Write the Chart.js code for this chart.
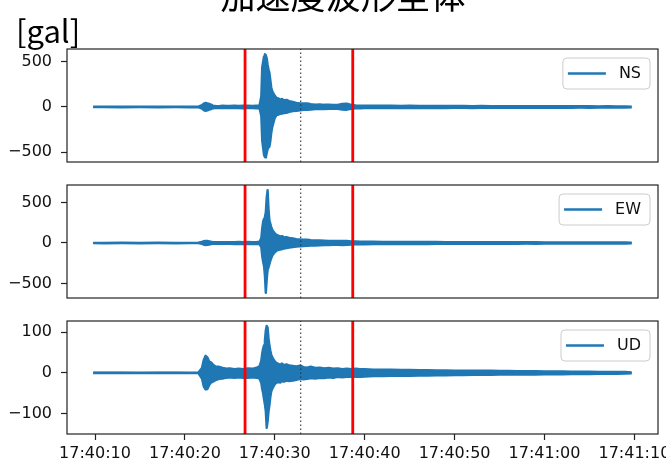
<!DOCTYPE html>
<html><head><meta charset="utf-8">
<script src="https://cdn.jsdelivr.net/npm/chart.js@4.4.1/dist/chart.umd.min.js"></script>
<style>
html,body{margin:0;padding:0;background:#fff;}
#wrap{position:relative;width:666px;height:467px;overflow:hidden;background:#fff;}
canvas{position:absolute;left:0;}
</style></head><body>
<div id="wrap">
<canvas id="c1" width="666" height="175" style="top:0px"></canvas>
<canvas id="c2" width="666" height="135" style="top:175px"></canvas>
<canvas id="c3" width="666" height="157" style="top:310px"></canvas>
</div>
<script>
// ---- text ----
const titleText = '加速度波形全体';
const unitText = '[gal]';
const seriesNames = ['NS', 'EW', 'UD'];

// ---- time axis (seconds after 17:40:00) ----
const times = [9.8, 11, 13, 15, 17, 19, 20.5, 21.5,
  21.9, 22.1, 22.3, 22.5, 22.7, 22.9, 23.1,
  23.4, 23.8, 24.2, 24.6, 25.0, 25.5, 26.0, 26.5, 27.0, 27.5, 28.0, 28.3,
  28.5, 28.6, 28.7, 28.8, 28.9, 29.0, 29.1, 29.2, 29.3, 29.4,
  29.5, 29.6, 29.7, 29.8, 30.0, 30.2, 30.4, 30.6, 30.8, 31.0,
  31.3, 31.6, 32.0, 32.4, 32.8, 33.2, 33.6, 34.0, 34.5, 35.0,
  35.5, 36.0, 36.5, 37.0, 37.5, 38.0, 38.5, 39.0, 39.5, 40.0,
  41, 42, 43, 44, 45, 46, 47, 48, 49, 50,
  51, 52, 53, 54, 55, 56, 57, 58, 59, 60,
  61, 62, 63, 64, 65, 66, 67, 68, 69, 69.7];

// ---- waveform envelopes (upper / lower peak values, gal) ----
const nsUpper = [2, 3, 2, 3, 2, 3, 2, 3,
  20, 38, 45, 40, 34, 26, 15,
  12, 10, 13, 11, 12, 14, 11, 13, 14, 12, 15, 16,
  120, 440, 500, 560, 585, 575, 540, 470, 420, 380,
  300, 220, 180, 160, 125, 100, 95, 80, 90, 72,
  78, 65, 55, 45, 40, 38, 40, 30, 26, 28,
  24, 25, 22, 24, 34, 36, 22, 16, 14, 15,
  14, 13, 14, 12, 13, 12, 12, 11, 12, 11,
  11, 10, 11, 10, 10, 9, 10, 9, 9, 9,
  8, 9, 8, 8, 8, 7, 8, 7, 7, 4];
const nsLower = [-2, -2, -3, -2, -3, -2, -3, -2,
  -18, -35, -42, -38, -30, -24, -14,
  -11, -12, -10, -12, -13, -11, -12, -14, -12, -13, -14, -15,
  -100, -370, -450, -530, -555, -560, -510, -470, -450, -440,
  -380, -290, -230, -190, -120, -90, -85, -75, -72, -68,
  -65, -55, -45, -42, -38, -32, -30, -28, -24, -22,
  -22, -20, -21, -20, -28, -30, -20, -15, -14, -13,
  -13, -12, -13, -12, -12, -11, -12, -11, -11, -10,
  -10, -11, -10, -9, -10, -9, -9, -9, -8, -9,
  -8, -8, -8, -7, -8, -7, -7, -7, -6, -4];

const ewUpper = [2, 2, 3, 2, 3, 2, 2, 3,
  12, 22, 26, 24, 20, 15, 11,
  10, 9, 11, 10, 11, 10, 12, 11, 12, 11, 13, 15,
  60, 180, 260, 300, 320, 380, 560, 652, 420, 280,
  240, 200, 170, 150, 120, 100, 90, 80, 85, 70,
  72, 62, 55, 48, 45, 40, 42, 35, 32, 30,
  28, 26, 24, 25, 26, 24, 20, 18, 16, 16,
  15, 14, 14, 13, 13, 12, 12, 12, 11, 11,
  11, 10, 10, 10, 9, 10, 9, 9, 9, 8,
  8, 8, 8, 7, 8, 7, 7, 7, 6, 4];
const ewLower = [-2, -3, -2, -3, -2, -3, -2, -2,
  -11, -20, -25, -22, -18, -14, -10,
  -10, -11, -10, -11, -10, -12, -11, -12, -11, -13, -12, -14,
  -50, -160, -230, -280, -400, -616, -450, -330, -300, -260,
  -220, -190, -160, -140, -115, -95, -85, -80, -75, -68,
  -62, -55, -50, -45, -42, -38, -35, -32, -30, -28,
  -26, -24, -22, -22, -24, -22, -18, -17, -15, -15,
  -14, -14, -13, -13, -12, -12, -12, -11, -11, -11,
  -10, -10, -10, -9, -9, -9, -9, -8, -9, -8,
  -8, -8, -7, -7, -7, -7, -7, -6, -6, -4];

const udUpper = [0.5, 0.5, 0.6, 0.5, 0.6, 0.5, 0.6, 0.8,
  12, 32, 42, 38, 28, 26, 21,
  16, 15, 12, 10, 11, 9, 10, 9, 11, 10, 13, 16,
  30, 48, 60, 68, 80, 105, 116, 112, 85, 68,
  55, 45, 40, 35, 28, 24, 22, 20, 23, 19,
  21, 18, 17, 16, 18, 14, 13, 15, 12, 13,
  11, 12, 10, 11, 9, 10, 9, 10, 9, 9,
  8, 8, 7.5, 7, 7, 6.5, 6.5, 6, 6, 5.5,
  5.5, 5, 5, 5, 4.5, 4.5, 4, 4, 4, 3.5,
  3.5, 3.5, 3, 3, 3, 2.5, 2.5, 2.5, 2, 1];
const udLower = [-0.5, -0.5, -0.5, -0.6, -0.5, -0.5, -0.6, -0.8,
  -14, -34, -41, -40, -30, -24, -22,
  -18, -15, -14, -12, -11, -12, -11, -12, -12, -11, -12, -14,
  -25, -40, -50, -65, -78, -95, -136, -120, -95, -80,
  -60, -46, -40, -36, -28, -24, -23, -24, -20, -22,
  -19, -20, -19, -17, -15, -16, -15, -13, -14, -12,
  -13, -11, -12, -10, -11, -10, -10, -9, -10, -9,
  -8, -8, -7.5, -7, -7, -6.5, -6.5, -6, -6, -5.5,
  -5.5, -5, -5, -5, -4.5, -4.5, -4, -4, -4, -3.5,
  -3.5, -3.5, -3, -3, -3, -2.5, -2.5, -2.5, -2, -1];

// ---- markers (seconds after 17:40:00) ----
const markerRed = [26.69, 38.67];
const markerDotted = [32.88];

// ---- axes ----
const xRange = [6.885, 72.625];
const xTickValues = [10, 20, 30, 40, 50, 60, 70];
const xTickLabels = ['17:40:10', '17:40:20', '17:40:30', '17:40:40', '17:40:50', '17:41:00', '17:41:10'];
const nsRange = [-611, 644];
const ewRange = [-679, 716];
const udRange = [-151, 128];
const nsTicks = [-500, 0, 500];
const ewTicks = [-500, 0, 500];
const udTicks = [-100, 0, 100];
const nsTickLabels = ['\u2212500', '0', '500'];
const ewTickLabels = ['\u2212500', '0', '500'];
const udTickLabels = ['\u2212100', '0', '100'];

Chart.defaults.font.family = '"DejaVu Sans"';
Chart.defaults.font.size = 16;
Chart.defaults.color = '#111';

const BLUE = '#1f77b4';

function vline(x, yr, color, width, dash) {
  return { data: [{x: x, y: yr[0]}, {x: x, y: yr[1]}], borderColor: color, borderWidth: width,
    borderDash: dash || [], pointRadius: 0, fill: false, showLine: true, borderCapStyle: 'butt' };
}

function panelPlugin(name) {
  return {
    id: 'panel' + name,
    afterDraw(chart) {
      const ctx = chart.ctx, a = chart.chartArea;
      ctx.save();
      ctx.strokeStyle = '#222';
      ctx.lineWidth = 1.2;
      ctx.strokeRect(a.left, a.top, a.right - a.left, a.bottom - a.top);
      ctx.font = '16px "DejaVu Sans"';
      const tw = ctx.measureText(name).width;
      const bx2 = a.right - 8, by1 = a.top + 9, bh = 31;
      const tx = bx2 - 9 - tw;
      const lx2 = tx - 13, lx1 = lx2 - 38, bx1 = lx1 - 5;
      const r = 4;
      ctx.beginPath();
      ctx.moveTo(bx1 + r, by1);
      ctx.lineTo(bx2 - r, by1); ctx.arcTo(bx2, by1, bx2, by1 + r, r);
      ctx.lineTo(bx2, by1 + bh - r); ctx.arcTo(bx2, by1 + bh, bx2 - r, by1 + bh, r);
      ctx.lineTo(bx1 + r, by1 + bh); ctx.arcTo(bx1, by1 + bh, bx1, by1 + bh - r, r);
      ctx.lineTo(bx1, by1 + r); ctx.arcTo(bx1, by1, bx1 + r, by1, r);
      ctx.closePath();
      ctx.fillStyle = 'rgba(255,255,255,0.8)';
      ctx.fill();
      ctx.strokeStyle = '#cccccc';
      ctx.lineWidth = 1;
      ctx.stroke();
      ctx.beginPath();
      ctx.strokeStyle = BLUE;
      ctx.lineWidth = 2.4;
      ctx.moveTo(lx1, by1 + 15.5);
      ctx.lineTo(lx2, by1 + 15.5);
      ctx.stroke();
      ctx.fillStyle = '#111';
      ctx.textAlign = 'left';
      ctx.textBaseline = 'middle';
      ctx.fillText(name, tx, by1 + 16);
      ctx.restore();
    }
  };
}

const headerPlugin = {
  id: 'header',
  afterDraw(chart) {
    const ctx = chart.ctx;
    ctx.save();
    ctx.fillStyle = '#000';
    ctx.textBaseline = 'alphabetic';
    ctx.font = '35px "Noto Sans CJK JP"';
    ctx.textAlign = 'center';
    ctx.fillText(titleText, 343, 9);
    ctx.font = '31px "Noto Sans CJK JP"';
    ctx.textAlign = 'left';
    ctx.fillText(unitText, 16, 42.5);
    ctx.restore();
  }
};

function makeChart(id, name, upper, lower, yr, yt, ytl, showX, pad, extra) {
  const ds = [];
  markerRed.forEach(x => ds.push(vline(x, yr, '#ff0000', 2.8)));
  markerDotted.forEach(x => ds.push(vline(x, yr, '#333333', 1.1, [1.5, 2.5])));
  ds.push({ data: times.map((t, i) => ({x: t, y: upper[i]})), borderColor: BLUE, backgroundColor: BLUE,
    borderWidth: 2.4, pointRadius: 0, fill: '+1', tension: 0, borderJoinStyle: 'round' });
  ds.push({ data: times.map((t, i) => ({x: t, y: lower[i]})), borderColor: BLUE,
    borderWidth: 2.4, pointRadius: 0, fill: false, tension: 0, borderJoinStyle: 'round' });
  const plugins = [panelPlugin(name)];
  if (extra) plugins.push(extra);
  return new Chart(document.getElementById(id), {
    type: 'line',
    data: { datasets: ds },
    options: {
      responsive: false, animation: false, devicePixelRatio: 1,
      layout: { padding: pad },
      plugins: { legend: { display: false }, tooltip: { enabled: false } },
      scales: {
        x: {
          type: 'linear', min: xRange[0], max: xRange[1], display: showX,
          afterBuildTicks: s => { s.ticks = xTickValues.map(v => ({value: v})); },
          afterFit: s => { s.height = showX ? 33 : 0; s.paddingLeft = 0; s.paddingRight = 0; },
          grid: { drawOnChartArea: false, drawTicks: true, tickLength: 6, tickWidth: 1.2, tickColor: '#222' },
          border: { display: false },
          ticks: { autoSkip: false, maxRotation: 0, minRotation: 0, padding: 4, color: '#111',
            font: { size: 16 }, callback: (v, i) => xTickLabels[i] }
        },
        y: {
          type: 'linear', min: yr[0], max: yr[1],
          afterBuildTicks: s => { s.ticks = yt.map(v => ({value: v})); },
          afterFit: s => { s.width = 67; s.paddingTop = 0; s.paddingBottom = 0; },
          grid: { drawOnChartArea: false, drawTicks: true, tickLength: 6, tickWidth: 1.2, tickColor: '#222' },
          border: { display: false },
          ticks: { padding: 9, color: '#111', font: { size: 16 },
            callback: (v, i) => ytl[i] }
        }
      }
    },
    plugins: plugins
  });
}

makeChart('c1', seriesNames[0], nsUpper, nsLower, nsRange, nsTicks, nsTickLabels, false,
  {top: 49, bottom: 13, left: 0, right: 8}, headerPlugin);
makeChart('c2', seriesNames[1], ewUpper, ewLower, ewRange, ewTicks, ewTickLabels, false,
  {top: 10, bottom: 12, left: 0, right: 8});
makeChart('c3', seriesNames[2], udUpper, udLower, udRange, udTicks, udTickLabels, true,
  {top: 11, bottom: 0, left: 0, right: 8});
</script>
</body></html>
